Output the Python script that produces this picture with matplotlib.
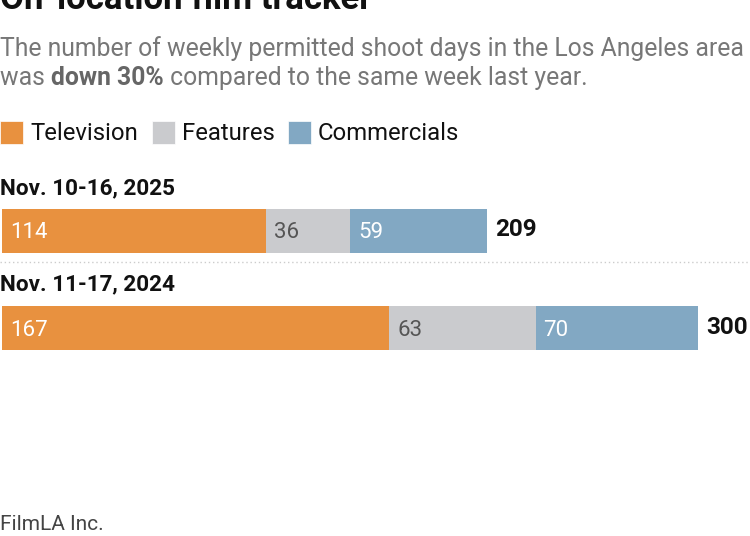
import matplotlib
matplotlib.use("Agg")
from matplotlib import pyplot as plt
from matplotlib.patches import Rectangle
from matplotlib import font_manager

# data
categories = ["Television", "Features", "Commercials"]
weeks = ["Nov. 10-16, 2025", "Nov. 11-17, 2024"]
television = [114, 167]
features = [36, 63]
commercials = [59, 70]

colors = ["#E8913F", "#CACBCE", "#82A8C3"]
label_colors = ["white", "#555555", "white"]

plt.rcParams['font.family'] = ['Roboto', 'DejaVu Sans']
names = set(f.name for f in font_manager.fontManager.ttflist)
narrow = 'Liberation Sans Narrow' if 'Liberation Sans Narrow' in names else 'Roboto'

W, H = 750, 536
fig = plt.figure(figsize=(W / 100, H / 100), dpi=100)
# one axes over the whole figure, y in pixels (top = 0), x in shoot days
ppu = 2.32
x0 = 2
ax = fig.add_axes([0, 0, 1, 1])
ax.set_xlim(-x0 / ppu, (W - x0) / ppu)
ax.set_ylim(H, 0)
ax.axis("off")


def px(x):
    # pixel -> data x
    return (x - x0) / ppu


# title (top is clipped in the original)
ax.text(px(0), 9, "On-location film tracker", fontsize=25, fontweight="bold",
        color="#111111", va="baseline", ha="left")

# subtitle, with bold part drawn piece by piece
sub_col = "#777777"
ax.text(px(0), 56, "The number of weekly permitted shoot days in the Los Angeles area",
        fontsize=17.8, color=sub_col, va="baseline")
fig.canvas.draw()
r = fig.canvas.get_renderer()
parts = [("was ", "normal"), ("down 30%", "bold"), (" compared to the same week last year.", "normal")]
cx = 0
for txt, w in parts:
    t = ax.text(px(cx), 85, txt, fontsize=17.8, color=sub_col if w == "normal" else "#666666",
                fontweight=w, va="baseline")
    bb = t.get_window_extent(renderer=r)
    cx += bb.width

# legend
leg_x = [0, 152, 288]
for i, cat in enumerate(categories):
    ax.add_patch(Rectangle((px(leg_x[i]), 121), 23 / ppu, 23, facecolor=colors[i],
                           edgecolor="white", linewidth=0.5))
    ax.text(px(leg_x[i] + 30), 133, cat, fontsize=17.2, color="#111111", va="center")

# bars
bar_y = [231, 328]
label_y = [188, 284]
series = [television, features, commercials]
for j, wk in enumerate(weeks):
    ax.text(px(0), label_y[j], wk, fontsize=16.2, fontweight="bold", color="#111111", va="center")
    left = 0
    for i, s in enumerate(series):
        ax.barh(bar_y[j], s[j], left=left, height=44, color=colors[i], edgecolor="none")
        ax.text(left + 8 / ppu, bar_y[j] + 2, str(s[j]), fontsize=16, family=[narrow, 'Roboto'],
                color=label_colors[i], va="center", ha="left")
        left += s[j]
    ax.text(left + 8 / ppu, bar_y[j] - 1, str(left), fontsize=17.5, fontweight="bold",
            color="#111111", va="center", ha="left")

# separator
ax.plot([px(0), px(W)], [262, 262], linestyle=(0, (1, 2)), color="#cccccc", linewidth=1)

# source
ax.text(px(0), 524, "FilmLA Inc.", fontsize=15, color="#444444", va="center")

fig.savefig("out.png", dpi=100)
